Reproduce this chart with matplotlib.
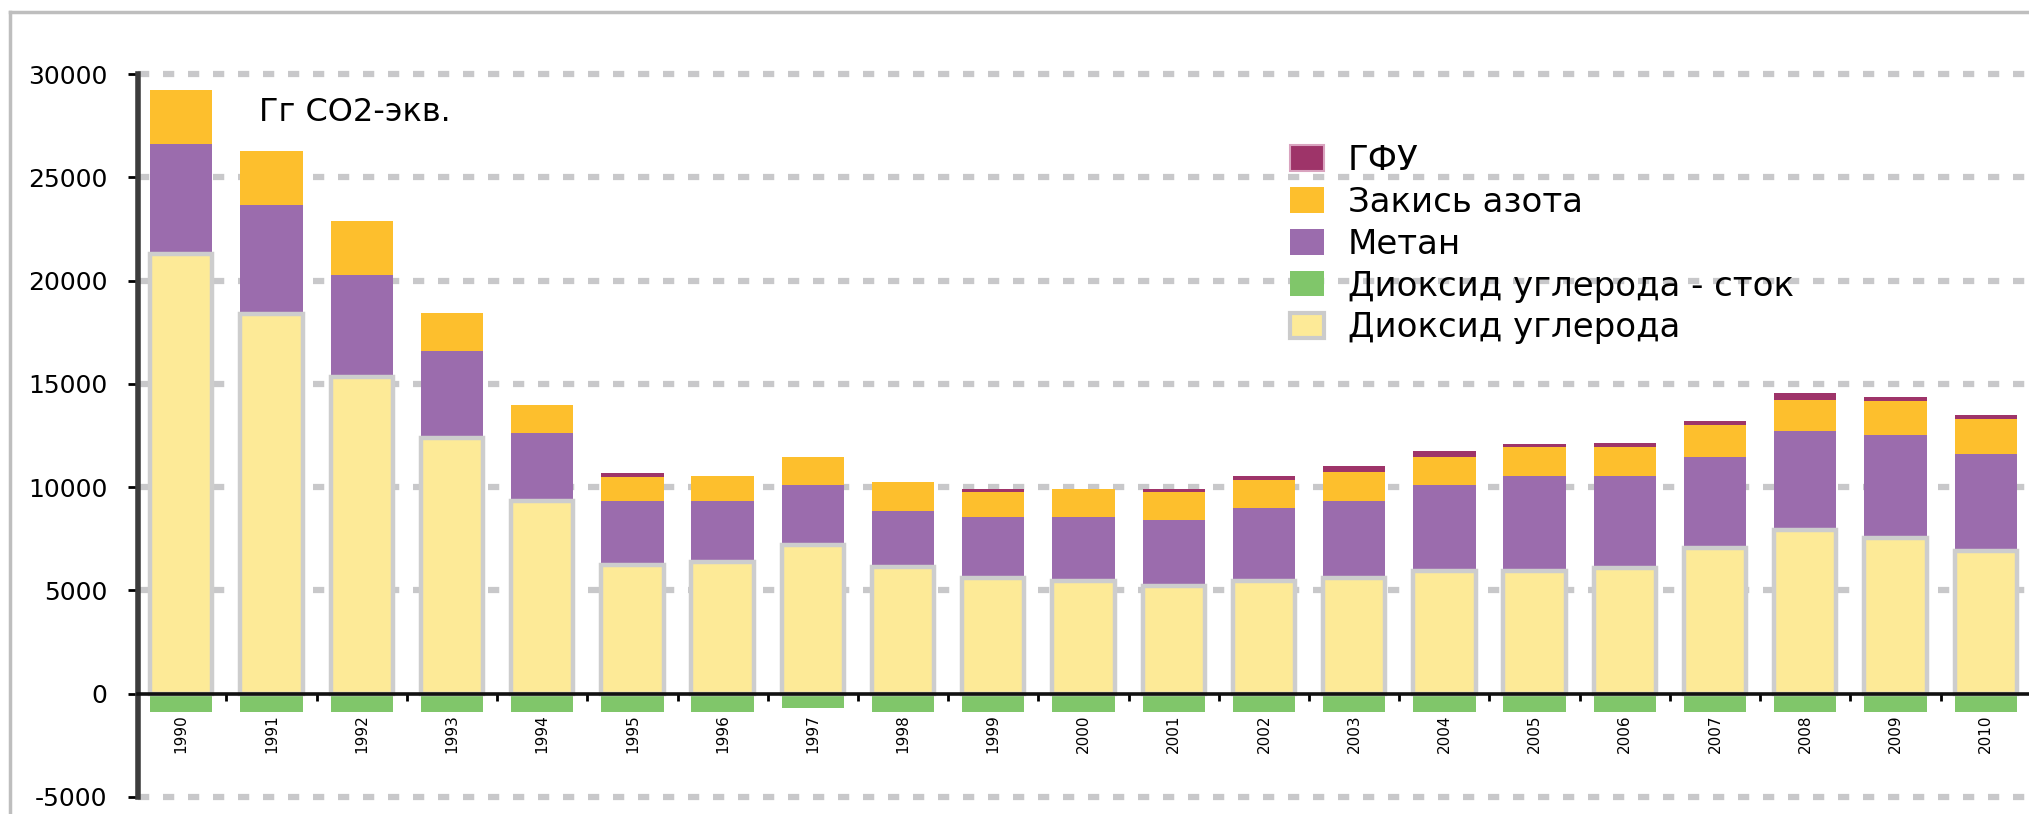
import numpy as np
from matplotlib import pyplot as plt
from matplotlib import patches as mpatches
from matplotlib.lines import Line2D

# Data, Gg CO2-eq
years = list(range(1990, 2011))
co2 = np.array([21300, 18380, 15330, 12360, 9320, 6250, 6400, 7200, 6150, 5580, 5440,
                5230, 5440, 5580, 5920, 5920, 6070, 7070, 7910, 7540, 6930])
methane = np.array([5330, 5290, 4950, 4240, 3310, 3060, 2910, 2890, 2680, 2960, 3100,
                    3160, 3530, 3730, 4170, 4610, 4460, 4390, 4810, 4980, 4670])
n2o = np.array([2610, 2620, 2620, 1840, 1360, 1190, 1220, 1360, 1400, 1210, 1360,
                1360, 1380, 1440, 1360, 1410, 1410, 1550, 1500, 1640, 1700])
hfc = np.array([0, 0, 0, 0, 0, 180, 0, 0, 0, 150, 0,
                150, 180, 260, 290, 150, 220, 210, 340, 210, 200])
sink = np.array([-870, -870, -870, -870, -870, -870, -870, -700, -870, -870, -870,
                 -870, -870, -870, -870, -870, -870, -870, -870, -870, -870])

labels = ['ГФУ', 'Закись азота', 'Метан', 'Диоксид углерода - сток', 'Диоксид углерода']
c_hfc, c_n2o, c_ch4, c_sink, c_co2 = '#9e3469', '#fdbf2d', '#9b6cad', '#80c66a', '#fdea97'

W, H = 2029, 814
fig = plt.figure(figsize=(W / 100, H / 100), dpi=100)
ax = fig.add_axes([138 / W, (H - 797) / H, (W - 138) / W, (797 - 74) / H])

x = np.arange(len(years))
bw = 0.69
ax.bar(x, methane, bw, bottom=co2, color=c_ch4, zorder=3)
ax.bar(x, n2o, bw, bottom=co2 + methane, color=c_n2o, zorder=3)
ax.bar(x, hfc, bw, bottom=co2 + methane + n2o, color=c_hfc, zorder=3)
ax.bar(x, co2, bw, color=c_co2, edgecolor='#cdcdcd', linewidth=3.2, zorder=4)
ax.bar(x, sink, bw, color=c_sink, zorder=3)

ax.set_xlim(-0.48, len(years) - 0.52)
ax.set_ylim(-5000, 30000)

# axes look
for s in ['top', 'right']:
    ax.spines[s].set_visible(False)
ax.spines['left'].set_color('#3c3c3c')
ax.spines['left'].set_linewidth(4)
ax.spines['bottom'].set_position(('data', 0))
ax.spines['bottom'].set_color('#111111')
ax.spines['bottom'].set_linewidth(2.6)
ax.spines['bottom'].set_zorder(6)

ax.set_yticks(range(-5000, 30001, 5000))
ax.set_yticklabels([str(v) for v in range(-5000, 30001, 5000)])
ax.tick_params(axis='y', direction='out', length=7, width=2, color='black',
               pad=15, labelsize=18)

ax.set_xticks(x)
ax.set_xticklabels([str(y) for y in years], rotation=90)
ax.set_xticks(x[:-1] + 0.5, minor=True)
ax.tick_params(axis='x', which='major', length=0, pad=15, labelsize=11)
ax.tick_params(axis='x', which='minor', direction='out', length=5, width=2, color='black')

ax.grid(axis='y', color='#c8c8ca', linewidth=4.5, linestyle=(0, (1.8, 2.2)))
ax.set_axisbelow(True)
for gl in ax.get_ygridlines():
    gl.set_clip_on(False)
ax.get_ygridlines()[1].set_visible(False)

# outer frame
fig.add_artist(Line2D([10 / W, 10 / W], [0, 1 - 12 / H], transform=fig.transFigure,
                      color='#bebebe', lw=2.5))
fig.add_artist(Line2D([10 / W, 1], [1 - 12 / H, 1 - 12 / H], transform=fig.transFigure,
                      color='#bebebe', lw=2.5))

fig.text(259 / W, 1 - 121 / H, 'Гг CO2-экв.', fontsize=23, va='baseline')

handles = [mpatches.Patch(facecolor=c_hfc, edgecolor='#d9a3bf', lw=1.5),
           mpatches.Patch(facecolor=c_n2o),
           mpatches.Patch(facecolor=c_ch4),
           mpatches.Patch(facecolor=c_sink),
           mpatches.Patch(facecolor=c_co2, edgecolor='#cbcbcb', lw=3)]
fig.legend(handles, labels, loc='upper left', bbox_to_anchor=(1290 / W, 1 - 144 / H),
           frameon=False, fontsize=24.5, handlelength=1.0, handleheight=0.78,
           handletextpad=0.7, labelspacing=0.26, borderpad=0, borderaxespad=0)

fig.savefig('out.png', dpi=100)
